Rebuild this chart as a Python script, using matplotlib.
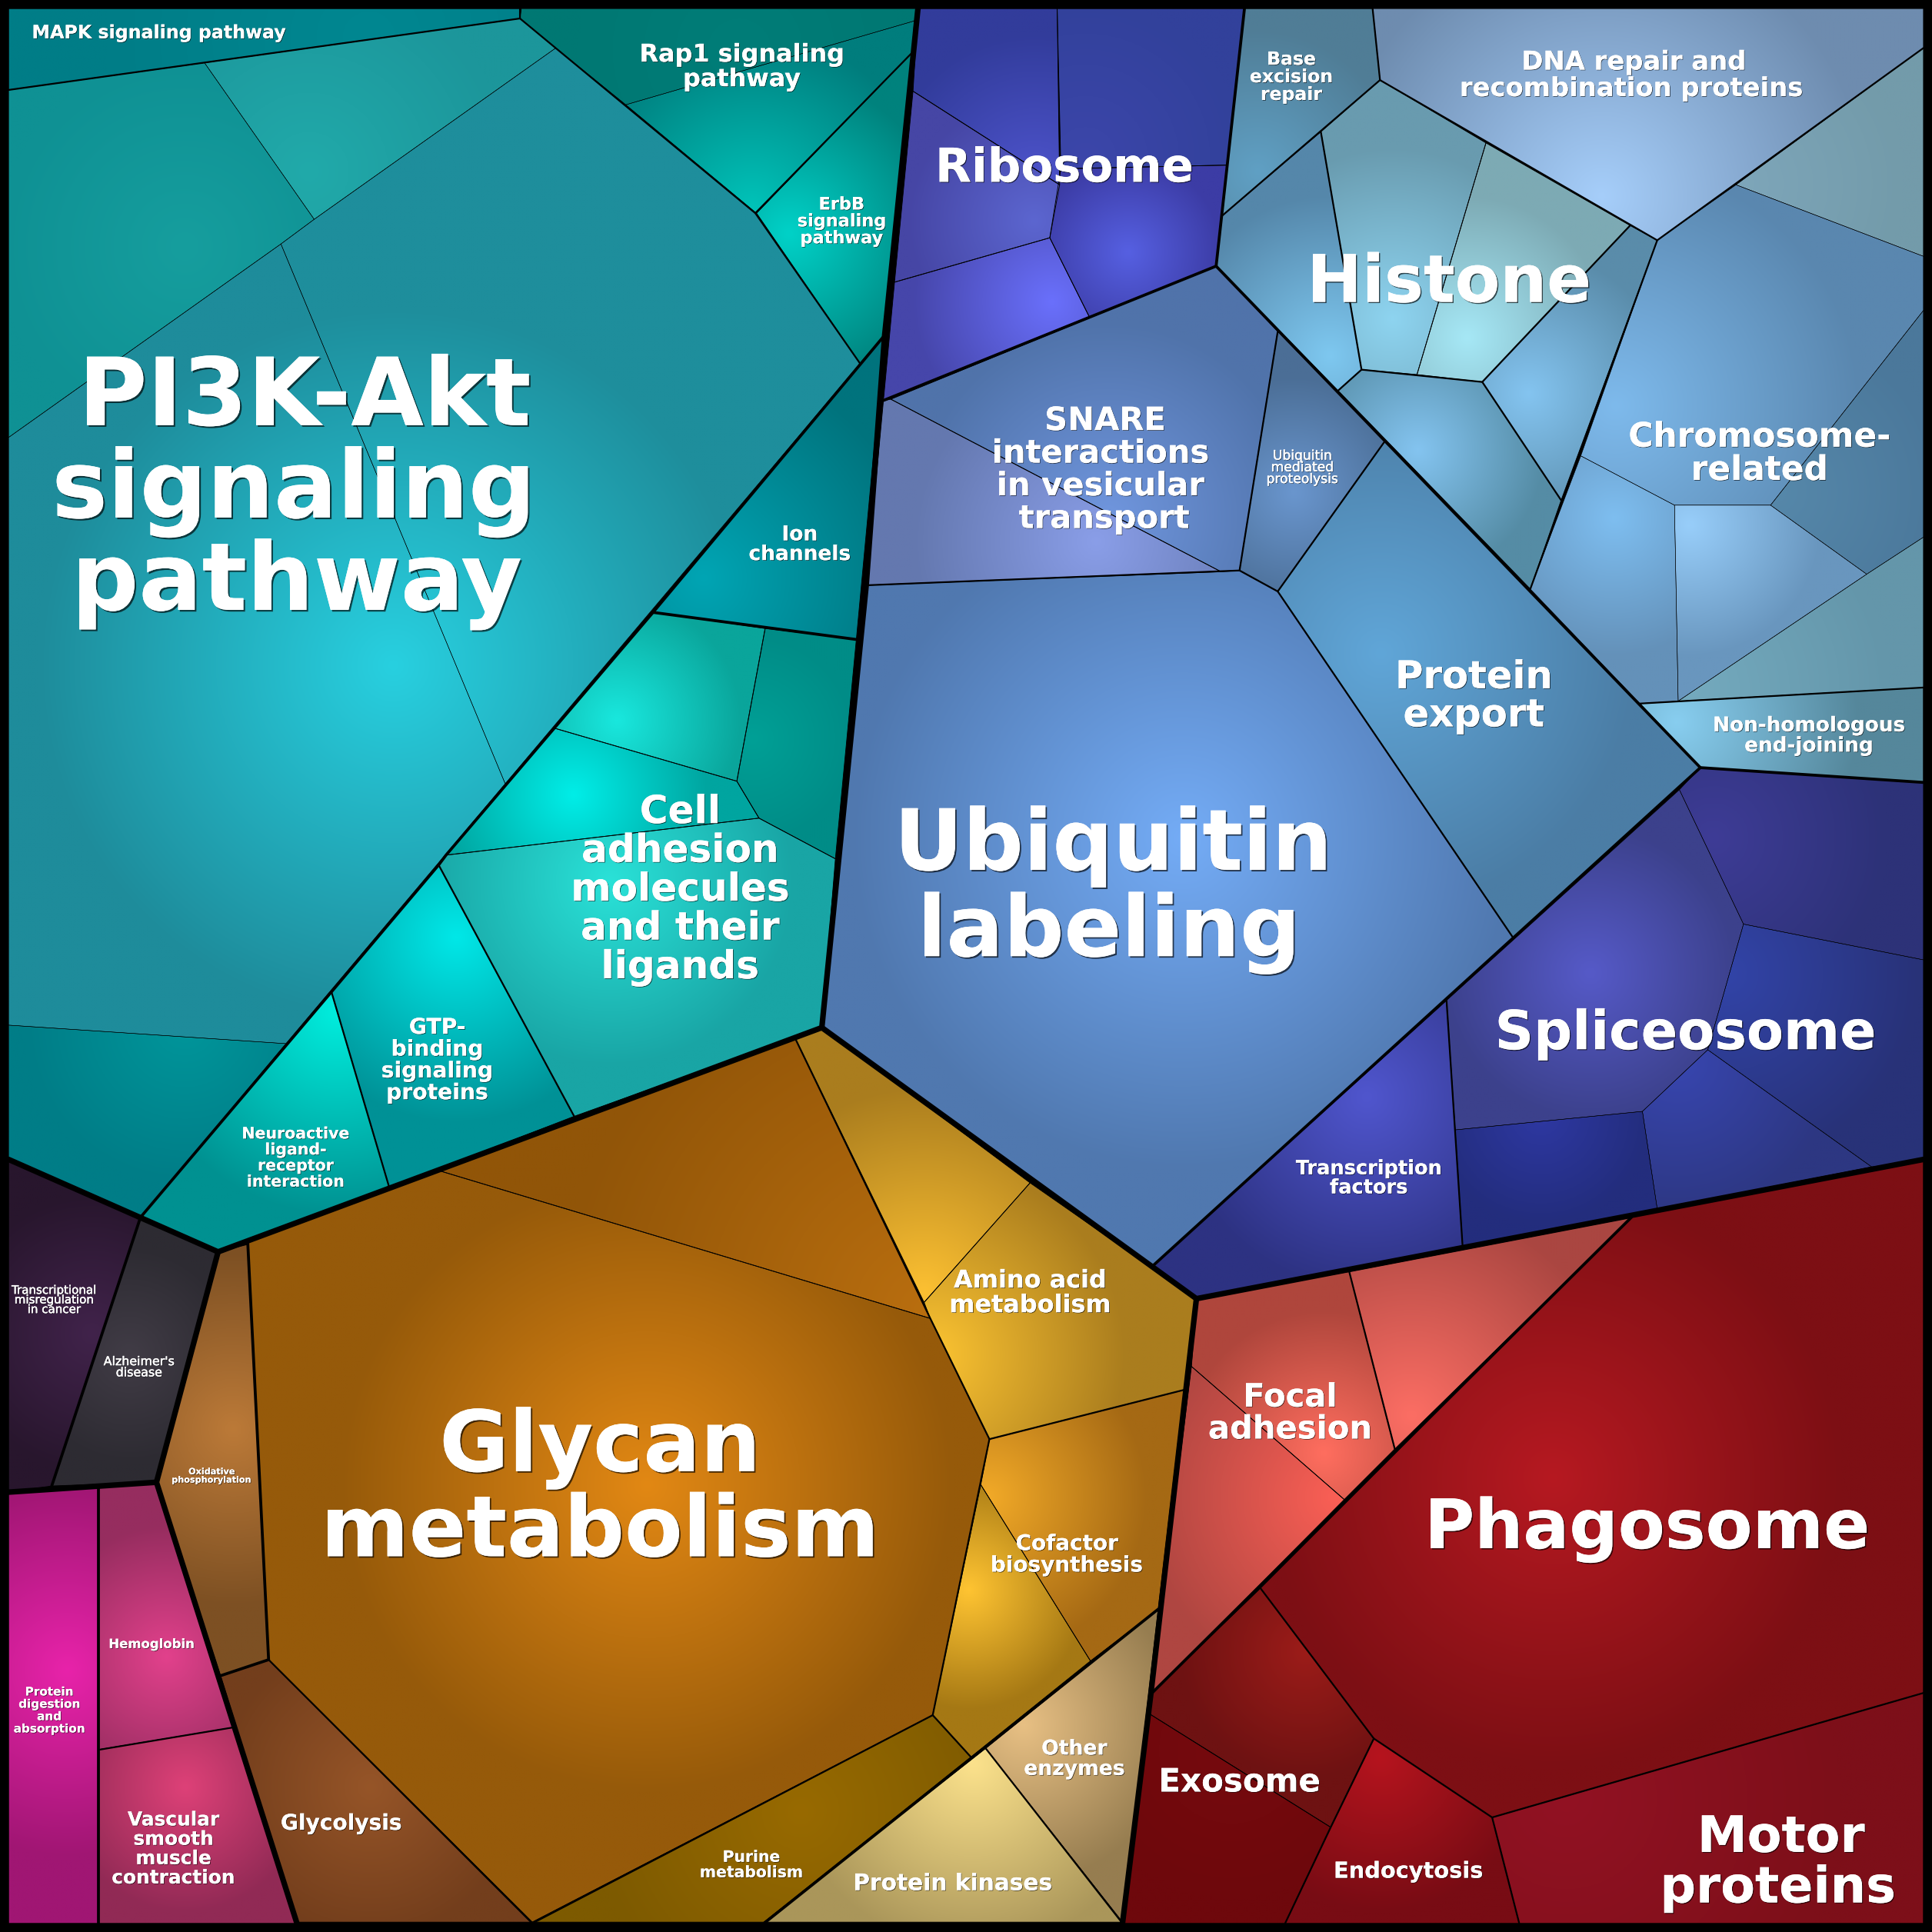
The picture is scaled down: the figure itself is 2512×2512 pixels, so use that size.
import numpy as np
import matplotlib
matplotlib.use("Agg")
import matplotlib.pyplot as plt
from matplotlib.patches import Polygon
import matplotlib.patheffects as pe

S = 1568.0
cell_vertices = [
 [(7,7),(423,7),(422,15),(7,73)],
 [(7,73),(166,51),(255,178),(228,198),(7,355)],
 [(166,51),(422,15),(451,39),(255,178)],
 [(451,39),(613,173),(698,295),(410,636),(228,198),(255,178)],
 [(7,355),(228,198),(410,636),(232,847),(7,832)],
 [(7,832),(232,847),(114,988),(7,941)],
 [(423,7),(745,7),(742,17),(508,85),(451,39),(422,15)],
 [(508,85),(742,17),(740,43),(614,173)],
 [(614,173),(740,43),(718,272),(698,295)],
 [(698,295),(718,272),(695,519),(530,497)],
 [(530,497),(621,510),(598,634),(450,591)],
 [(621,510),(695,519),(678,697),(616,664),(598,634)],
 [(450,591),(598,634),(616,664),(362,694)],
 [(362,694),(616,664),(678,697),(667,834),(466,906),(356,702)],
 [(356,702),(466,906),(316,964),(269,805)],
 [(269,805),(316,964),(177,1016),(114,988)],
 [(7,941),(114,988),(42,1206),(7,1211)],
 [(114,988),(177,1016),(127,1203),(42,1206)],
 [(177,1016),(201,1010),(218,1347),(179,1360),(127,1203)],
 [(356,950),(645,842),(755,1070)],
 [(201,1007),(356,950),(755,1070),(803,1168),(757,1392),(432,1560),(218,1347)],
 [(645,842),(667,834),(836,960),(750,1057)],
 [(836,960),(971,1054),(961,1128),(803,1168),(755,1070),(750,1057)],
 [(803,1168),(961,1128),(940,1306),(885,1348),(796,1205)],
 [(796,1205),(885,1348),(788,1426),(757,1392)],
 [(757,1392),(788,1426),(620,1560),(432,1560)],
 [(800,1419),(940,1306),(911,1560)],
 [(620,1560),(800,1419),(911,1560)],
 [(179,1360),(218,1347),(432,1560),(241,1560)],
 [(971,1054),(1095,1032),(1132,1176),(1091,1217),(967,1109)],
 [(1095,1032),(1324,988),(1132,1176)],
 [(967,1109),(1091,1217),(934,1375)],
 [(1324,988),(1561,941),(1561,1374),(1211,1475),(1115,1411),(1023,1289)],
 [(934,1375),(1023,1289),(1115,1411),(1080,1483),(933,1391)],
 [(933,1391),(1080,1483),(1043,1561),(911,1561)],
 [(1115,1411),(1211,1475),(1233,1561),(1043,1561),(1080,1483)],
 [(1211,1475),(1561,1374),(1561,1561),(1233,1561)],
 [(7,1211),(80,1206),(80,1561),(7,1561)],
 [(80,1206),(127,1203),(189,1402),(80,1420)],
 [(80,1420),(189,1402),(241,1561),(80,1561)],
 [(745,7),(858,7),(860,150),(741,74)],
 [(858,7),(1010,7),(996,134),(861,137)],
 [(861,137),(996,134),(987,216),(884,257),(852,193)],
 [(741,74),(860,150),(852,193),(726,229)],
 [(726,229),(852,193),(884,257),(717,325)],
 [(723,324),(987,216),(1037,269),(1006,463),(991,464),(784,356)],
 [(717,325),(723,324),(991,464),(703,475)],
 [(1037,269),(1124,358),(1037,480),(1006,463)],
 [(1124,358),(1380,623),(1228,761),(1037,480)],
 [(703,475),(1006,463),(1037,480),(1228,761),(936,1027),(667,834)],
 [(1010,7),(1114,7),(1120,65),(992,175)],
 [(992,175),(1072,107),(1105,300),(1086,317),(987,216)],
 [(1072,107),(1120,65),(1206,116),(1150,304),(1105,300)],
 [(1206,116),(1323,183),(1203,310),(1150,304)],
 [(1323,183),(1345,195),(1267,406),(1203,310)],
 [(1086,317),(1105,300),(1203,310),(1267,406),(1242,478)],
 [(1114,7),(1561,7),(1561,39),(1345,195),(1120,65)],
 [(1409,150),(1561,39),(1561,208)],
 [(1345,195),(1409,150),(1561,208),(1561,252),(1437,410),(1359,410),(1283,370)],
 [(1561,252),(1561,436),(1515,466),(1437,410)],
 [(1283,370),(1359,410),(1362,569),(1331,571),(1242,478)],
 [(1359,410),(1437,410),(1515,466),(1362,569)],
 [(1515,466),(1561,436),(1561,558),(1362,569)],
 [(1331,571),(1561,558),(1561,635),(1380,623)],
 [(1380,623),(1561,635),(1561,779),(1415,750),(1363,641)],
 [(1363,641),(1415,750),(1386,852),(1333,902),(1181,917),(1174,812)],
 [(1415,750),(1561,779),(1561,941),(1519,947),(1386,852)],
 [(1386,852),(1519,947),(1345,981),(1333,902)],
 [(1181,917),(1333,902),(1345,981),(1187,1011)],
 [(1174,812),(1181,917),(1187,1011),(971,1054),(936,1027)],
]
glow_xy = [
 (300,30),(150,200),(250,140),(320,540),(320,540),(150,830),(600,40),(610,170),(640,190),(570,470),
 (500,585),(610,600),(465,645),(495,715),(370,760),(275,820),(75,1083),(105,1100),(190,1160),(755,1065),
 (525,1205),(750,1050),(755,1100),(800,1215),(785,1290),(650,1470),(830,1400),(790,1430),(300,1450),(1075,1180),
 (1145,1150),(1085,1215),(1260,1200),(1060,1340),(1000,1420),(1120,1425),(1270,1460),(55,1355),(135,1345),(150,1450),
 (840,150),(880,130),(915,205),(840,180),(855,245),(900,420),(890,440),(1050,400),(1120,530),(960,680),
 (1020,140),(1080,290),(1130,260),(1190,275),(1240,320),(1150,365),(1300,160),(1410,150),(1310,330),(1440,400),
 (1310,420),(1370,425),(1370,560),(1360,585),(1390,680),(1290,790),(1400,790),(1360,860),(1250,905),(1110,890),
]
glow_rgb = [
 (0,135,145),(22,158,158),(33,170,170),(40,208,224),(40,208,224),(0,150,155),(0,125,120),(0,195,185),(0,210,200),(0,165,180),
 (25,232,222),(0,160,150),(0,238,232),(42,226,216),(0,232,232),(0,238,222),(65,35,75),(65,60,70),(188,122,56),(185,110,15),
 (226,136,20),(252,192,50),(252,196,50),(242,170,40),(255,196,50),(152,106,0),(232,192,132),(252,226,140),(150,85,40),(255,110,95),
 (252,110,100),(250,95,85),(182,25,33),(156,28,25),(118,10,14),(182,20,30),(146,18,35),(232,35,170),(226,65,140),(222,65,120),
 (78,84,204),(60,70,170),(86,96,226),(92,102,208),(106,112,252),(112,150,222),(138,158,232),(106,150,206),(96,166,216),(116,172,246),
 (96,160,196),(126,200,240),(142,212,240),(166,232,246),(132,196,240),(132,196,240),(166,206,250),(126,166,186),(126,186,236),(86,136,170),
 (126,190,240),(152,206,250),(116,170,190),(136,206,240),(62,60,150),(86,90,200),(50,68,168),(56,70,176),(46,56,162),(80,86,206),
]
rim_rgb = [
 (0,125,135),(15,145,148),(28,150,155),(30,142,156),(30,140,155),(0,125,135),(0,120,115),(0,125,125),(0,130,125),(0,115,125),
 (10,165,155),(0,140,135),(0,165,160),(25,165,165),(0,145,150),(0,145,145),(40,22,45),(45,43,50),(125,80,35),(145,85,8),
 (150,90,10),(170,125,30),(170,125,30),(165,105,20),(165,120,20),(125,90,0),(150,125,80),(170,150,90),(115,62,28),(175,70,60),
 (170,70,65),(175,70,65),(125,15,20),(110,18,18),(110,8,12),(120,12,20),(125,15,25),(160,22,115),(150,45,95),(145,42,85),
 (50,60,155),(50,65,155),(60,60,165),(70,70,165),(70,70,170),(80,115,170),(100,120,175),(75,110,150),(75,125,165),(80,120,175),
 (80,125,150),(85,135,170),(105,155,175),(125,170,180),(90,140,170),(85,140,165),(110,140,175),(115,155,170),(90,135,175),(75,120,155),
 (100,145,185),(105,150,190),(100,150,170),(85,135,155),(45,50,120),(60,65,140),(40,50,120),(45,55,130),(35,45,125),(45,50,130),
]
glow_reach = {3:290, 4:290, 20:250, 32:235, 48:210, 49:270}
faint_cells = {1,2,3,4,5,6,7,56,57,58,59,60,61,62,64,65,66,67,68}

thick_edges = [
 [(745,7),(718,272),(703,475),(667,834),(177,1016),(7,941)],
 [(667,834),(971,1054),(1561,941)],
 [(971,1054),(934,1375),(911,1561)],
 [(177,1016),(127,1203),(241,1561)],
 [(7,1211),(127,1203)],
]
heavy_edges = [
 [(718,272),(530,497),(362,694),(356,702),(269,805),(114,988)],
 [(717,325),(987,216),(1380,623),(936,1027)],
 [(1010,7),(987,216)],
 [(1380,623),(1561,635)],
 [(934,1375),(1324,988)],
 [(940,1306),(620,1561)],
 [(530,497),(695,519)],
 [(80,1206),(80,1561)],
 [(114,988),(42,1206)],
 [(201,1007),(218,1347),(179,1360)],
]
medium_edges = [
 [(422,7),(422,15),(7,73)],
 [(422,15),(451,39),(613,173),(698,295)],
 [(613,173),(740,43)],
 [(356,702),(466,906)],[(269,805),(316,964)],
 [(218,1347),(432,1561)],
 [(645,842),(755,1070),(803,1168),(757,1392),(432,1561)],
 [(803,1168),(961,1128)],[(757,1392),(788,1426)],[(800,1419),(911,1561)],
 [(1115,1411),(1023,1289)],[(1115,1411),(1211,1475),(1561,1374)],
 [(1115,1411),(1080,1483),(1043,1561)],[(1211,1475),(1233,1561)],
 [(1095,1032),(1132,1176)],[(81,1420),(189,1402)],
 [(1120,65),(992,175)],[(1114,7),(1120,65),(1345,195),(1561,39)],[(1345,195),(1242,478)],
 [(1072,107),(1105,300),(1086,317)],[(1105,300),(1203,310),(1267,406)],[(1203,310),(1323,183)],
 [(1331,571),(1561,558)],
 [(1037,269),(1006,463),(703,475)],[(1006,463),(1037,480),(1228,761)],[(1037,480),(1124,358)],
 [(1174,812),(1187,1011)],
]

label_lines = [
 ["MAPK signaling pathway"],["Rap1 signaling","pathway"],["ErbB","signaling","pathway"],["Ion","channels"],
 ["PI3K-Akt","signaling","pathway"],["Cell","adhesion","molecules","and their","ligands"],
 ["GTP-","binding","signaling","proteins"],["Neuroactive","ligand-","receptor","interaction"],
 ["Transcriptional","misregulation","in cancer"],["Alzheimer's","disease"],["Oxidative","phosphorylation"],
 ["Hemoglobin"],["Protein","digestion","and","absorption"],["Vascular","smooth","muscle","contraction"],
 ["Glycolysis"],["Glycan","metabolism"],["Purine","metabolism"],["Protein kinases"],["Amino acid","metabolism"],
 ["Cofactor","biosynthesis"],["Other","enzymes"],["Focal","adhesion"],["Phagosome"],["Exosome"],["Endocytosis"],
 ["Motor","proteins"],["Spliceosome"],["Transcription","factors"],["Ribosome"],["Base","excision","repair"],
 ["DNA repair and","recombination proteins"],["Histone"],["SNARE","interactions","in vesicular","transport"],
 ["Ubiquitin","mediated","proteolysis"],["Protein","export"],["Ubiquitin","labeling"],["Chromosome-","related"],
 ["Non-homologous","end-joining"],
]
label_x = [129,602,683,649,[247.5,238.5,241],552,355,240,44,113,172,123,40,141,277,487,610,773,836,866,872,1047,1337,1006,1143,[1445.5,1443],1368,1111,864,1048,[1326,1324],1176,[897,893,893,896],1057,1196,[903.5,900],1428,1468]
label_y = [31,50,170,438.5,345,668,839,924,1050,1108,1196.5,1337.5,1376,1481.5,1485,1194,1511,1534,1045,1258,1424,1141.5,1256.5,1454,1524,1503,851.5,953,147.5,52.5,56.5,245,349,373,558.5,706,362.5,593.5]
label_pitch = [0,20,13.7,16,75,31.5,17.7,13,7.8,9,6.7,0,10,15.7,0,69,12.5,0,20,17.5,16.5,26,0,0,0,41,0,15.5,0,14.3,21.5,0,26.5,9.5,31,70,27,16.5]
label_em = [14.8,19.9,14,16.5,76.2,31.3,17.6,12.8,9.4,9.9,7,10.3,9.5,15.5,17.5,68.7,12.7,18.5,19.9,17.4,16.6,26,55.4,26.2,18,40.7,43.7,16,38,14.7,21.1,53.3,26,10.7,31,68.7,27.4,16.4]
regular_labels = {"Transcriptional","Alzheimer's"}
regular_labels_full = {"Ubiquitin mediated proteolysis"}

fig = plt.figure(figsize=(25.12, 25.12), dpi=100, facecolor="black")
ax = fig.add_axes([0, 0, 1, 1])
ax.set_axis_off()
ax.set_xlim(0, S); ax.set_ylim(S, 0)
ax.set_autoscale_on(False)

for i, (verts, g, c0, c1) in enumerate(zip(cell_vertices, glow_xy, glow_rgb, rim_rgb)):
    v = np.array(verts, float)
    x0, y0 = v.min(0) - 2; x1, y1 = v.max(0) + 2
    xs = np.arange(x0, x1 + 3, 3.0); ys = np.arange(y0, y1 + 3, 3.0)
    X, Y = np.meshgrid(xs, ys)
    r = glow_reach.get(i, 0.72 * np.hypot(v[:, 0] - g[0], v[:, 1] - g[1]).max())
    t = np.clip(np.hypot(X - g[0], Y - g[1]) / r, 0, 1)[..., None]
    img = (np.array(c0) + (np.array(c1) - np.array(c0)) * t) / 255.0
    im = ax.imshow(img, extent=(xs[0], xs[-1], ys[-1], ys[0]), interpolation="bilinear", aspect="auto", zorder=1)
    p = Polygon(v, closed=True, fc="none", ec="black", lw=0.35 if i in faint_cells else 0.65, zorder=2, joinstyle="miter")
    ax.add_patch(p)
    im.set_clip_path(p)

for edges, lw in ((medium_edges, 1.6), (heavy_edges, 2.7), (thick_edges, 5.2)):
    for e in edges:
        a = np.array(e, float)
        ax.plot(a[:, 0], a[:, 1], color="black", lw=lw, zorder=3, solid_joinstyle="miter", solid_capstyle="round")

px2pt = (2512 / S) * 0.72
for lines, x, y, pitch, em in zip(label_lines, label_x, label_y, label_pitch, label_em):
    fs = em * px2pt
    d = max(0.6, fs * 0.018)
    reg = lines[0] in regular_labels or " ".join(lines) in regular_labels_full
    for i, s in enumerate(lines):
        xi = x[i] if isinstance(x, list) else x
        ax.text(xi, y + i * pitch, s, color="white", fontsize=fs, fontweight="normal" if reg else "bold",
                family="DejaVu Sans", ha="center", va="baseline", zorder=5,
                path_effects=[pe.SimplePatchShadow(offset=(d, -d), shadow_rgbFace="black", alpha=0.65),
                              pe.Stroke(linewidth=0.35 if reg else 0.0, foreground="white"), pe.Normal()])

fig.savefig("out.png", dpi=100, facecolor="black")
